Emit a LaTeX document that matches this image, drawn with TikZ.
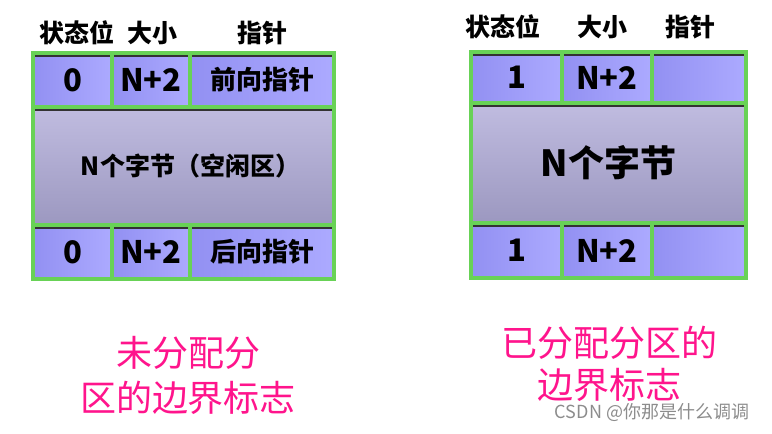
\documentclass[tikz,border=0pt]{standalone}
\usepackage{fontspec}
\setmainfont{Noto Sans CJK SC}
\usetikzlibrary{positioning}
\definecolor{cellblue}{RGB}{146,144,242}
\definecolor{cellbluelt}{RGB}{172,170,255}
\definecolor{midtop}{RGB}{192,188,224}
\definecolor{midbot}{RGB}{156,152,192}
\definecolor{gridgreen}{RGB}{104,210,86}
\definecolor{tagpink}{RGB}{255,20,140}
\newcommand{\fsz}[2]{\fontsize{#1}{#2}\selectfont}

\begin{document}
\begin{tikzpicture}[x=1pt,y=-1pt,
cell/.style={rectangle, draw=gridgreen, line width=3.2pt, outer sep=0pt,
  inner sep=0pt, left color=cellblue, right color=cellbluelt,
  font=\fsz{31}{36}\bfseries,
  path picture={\draw[black!80,line width=8pt]
    (path picture bounding box.north west) -- (path picture bounding box.north east);}},
midcell/.style={cell, top color=midtop, bottom color=midbot},
head/.style={font=\fsz{25}{29}\bfseries, inner sep=0pt},
tag/.style={text=tagpink, align=center, inner sep=0pt}
]
\useasboundingbox (0,0) rectangle (772,434);

% free block
\node[cell, minimum width=79pt, minimum height=54pt, anchor=north west]
  (Lstat) at (33,53) {0};
\node[cell, minimum width=78pt, minimum height=54pt]
  (Lsize) [right=0pt of Lstat] {N+2};
\node[cell, minimum width=144pt, minimum height=54pt, font=\fsz{26}{30}\bfseries]
  (Lptr) [right=0pt of Lsize] {前向指针};
\node[midcell, minimum width=301pt, minimum height=118pt, font=\fsz{25}{30}\bfseries]
  (Lmid) [below right=0pt and 0pt of Lstat.south west] {\hspace*{14pt}N个字节（空闲区）};
\node[cell, minimum width=79pt, minimum height=54pt]
  (Lstatb) [below right=0pt and 0pt of Lmid.south west] {0};
\node[cell, minimum width=78pt, minimum height=54pt]
  (Lsizeb) [right=0pt of Lstatb] {N+2};
\node[cell, minimum width=144pt, minimum height=54pt, font=\fsz{26}{30}\bfseries]
  (Lptrb) [right=0pt of Lsizeb] {后向指针};

% used block
\node[cell, minimum width=91pt, minimum height=51pt, anchor=north west]
  (Rstat) at (471,52) {1};
\node[cell, minimum width=90pt, minimum height=51pt]
  (Rsize) [right=0pt of Rstat] {N+2};
\node[cell, minimum width=94pt, minimum height=51pt]
  (Rptr) [right=0pt of Rsize] {};
\node[midcell, minimum width=275pt, minimum height=120pt, font=\fsz{36}{40}\bfseries]
  (Rmid) [below right=0pt and 0pt of Rstat.south west] {N个字节};
\node[cell, minimum width=91pt, minimum height=55pt]
  (Rstatb) [below right=0pt and 0pt of Rmid.south west] {1};
\node[cell, minimum width=90pt, minimum height=55pt]
  (Rsizeb) [right=0pt of Rstatb] {N+2};
\node[cell, minimum width=94pt, minimum height=55pt]
  (Rptrb) [right=0pt of Rsizeb] {};

% column heads
\node[head] (Lh1) at (77,33) {状态位};
\node[head] (Lh2) at (152,33) {大小};
\node[head] (Lh3) at (262,33) {指针};
\node[head] (Rh1) at (503,27) {状态位};
\node[head] (Rh2) at (602,27) {大小};
\node[head] (Rh3) at (690,27) {指针};

% captions
\node[tag, font=\fsz{36}{45}] (Lnote) at (188,375) {未分配分\\区的边界标志};
\node[tag, font=\fsz{36}{42}] (Rnote) at (609,364) {已分配分区的\\边界标志};
\node[font=\fsz{18}{22}, text=black!45, inner sep=0pt] (mark) at (652,413) {CSDN @你那是什么调调};
\end{tikzpicture}
\end{document}
